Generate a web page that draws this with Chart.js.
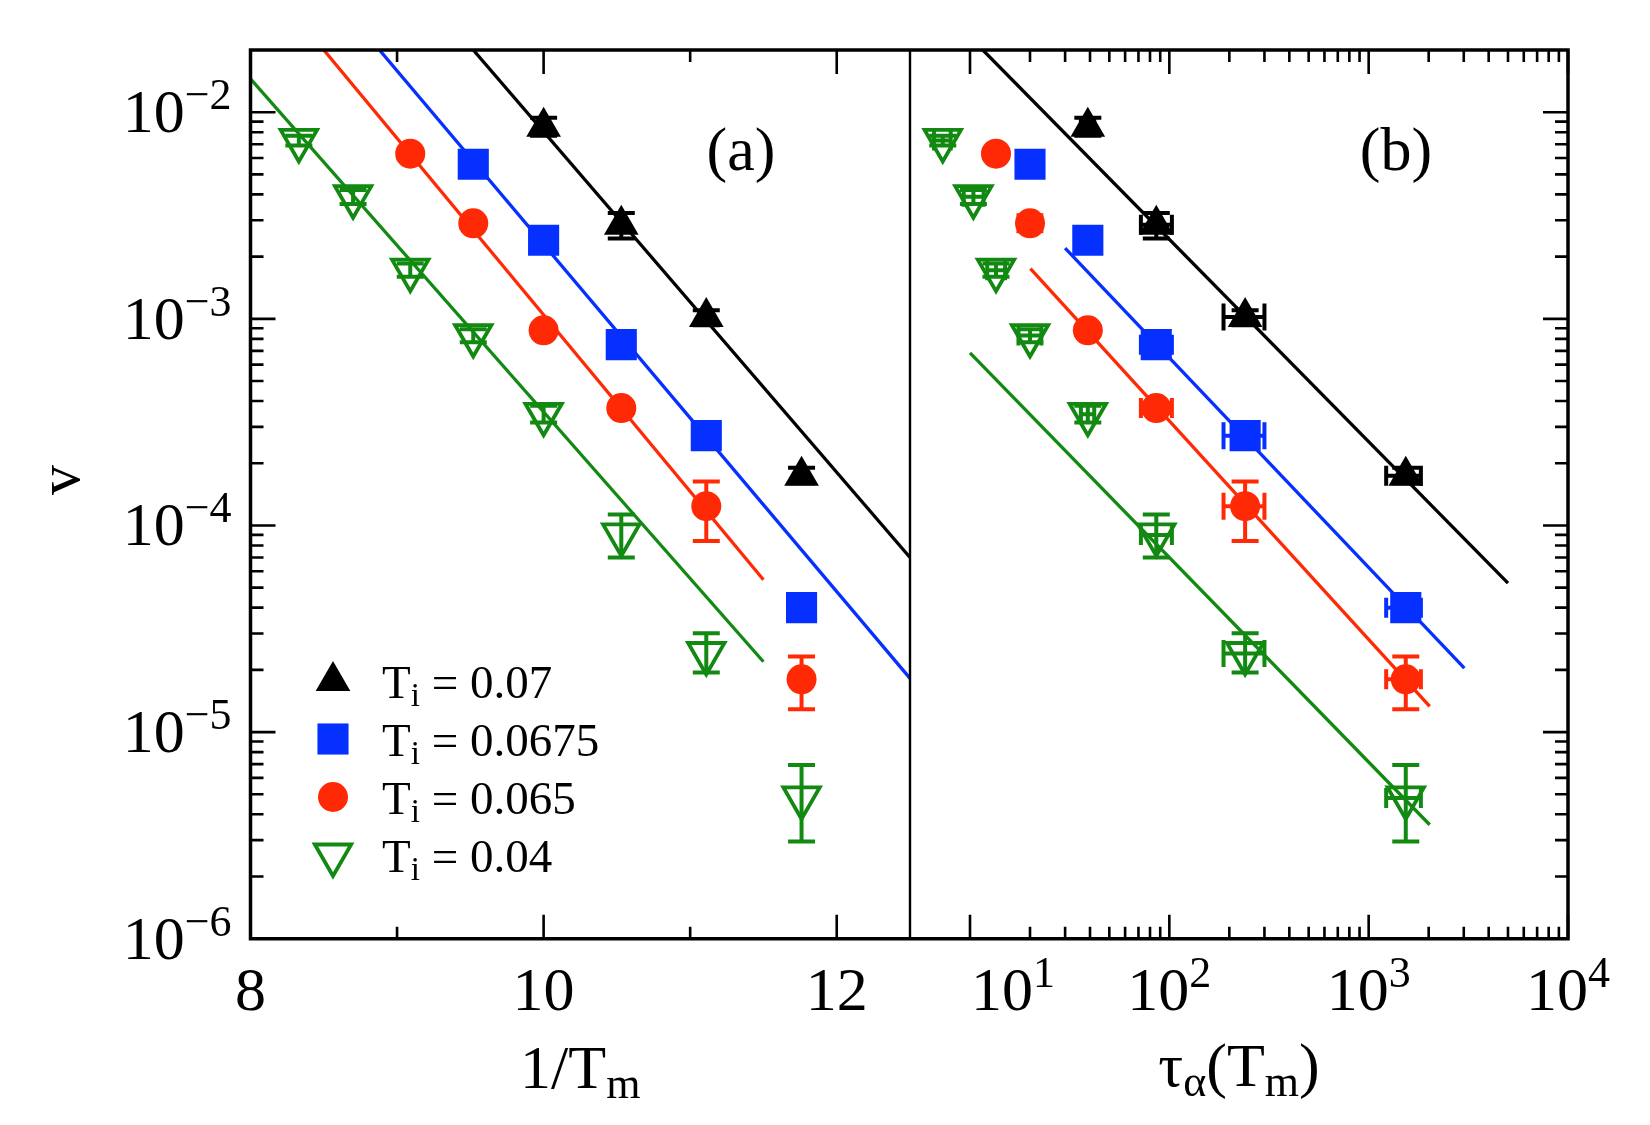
<!DOCTYPE html>
<html>
<head>
<meta charset="utf-8">
<script src="https://cdn.jsdelivr.net/npm/chart.js@4.4.0/dist/chart.umd.min.js"></script>
<style>
    body { margin: 0; background: #fff; }
    #wrap { position: relative; width: 1650px; height: 1125px; }
    #wrap canvas { position: absolute; left: 0; top: 0; }
</style>
</head>
<body>
<div id="wrap">
    <canvas id="chartA" width="1650" height="1125"></canvas>
    <canvas id="chartB" width="1650" height="1125"></canvas>
</div>
<script>
const SERIF = '"Liberation Serif", "Times New Roman", serif';

// 1/T_m and tau_alpha(T_m) for T_m = 0.12, 0.115, ... 0.085
const invTm = [8.33, 8.70, 9.09, 9.52, 10.0, 10.53, 11.11, 11.76];
const tauAlpha = [7.3, 10.4, 13.5, 20.0, 39.0, 86.0, 240, 1535];
const tauLow = [6.6, 9.3, 12.2, 17.5, 36.0, 72.0, 187, 1224];
const tauHigh = [8.0, 11.7, 15.0, 22.8, 42.0, 103, 300, 1828];

const seriesLabels = ['0.07', '0.0675', '0.065', '0.04'];
const seriesColors = ['#000000', '#0530ff', '#ff2a05', '#128a12'];

// v for each T_i, matching the last temperatures of the lists above
const vBlack = [8.5e-3, 2.85e-3, 1.02e-3, 1.74e-4];
const vBlackLow = [7.7e-3, 2.45e-3, 0.93e-3, 1.6e-4];
const vBlackHigh = [9.4e-3, 3.25e-3, 1.1e-3, 1.9e-4];

const vBlue = [5.6e-3, 2.4e-3, 7.5e-4, 2.72e-4, 4.0e-5];
const vBlueLow = [5.3e-3, 2.3e-3, 7.1e-4, 2.55e-4, 3.8e-5];
const vBlueHigh = [5.9e-3, 2.5e-3, 7.9e-4, 2.9e-4, 4.2e-5];

const vRed = [6.3e-3, 2.9e-3, 8.8e-4, 3.7e-4, 1.24e-4, 1.8e-5];
const vRedLow = [6.0e-3, 2.75e-3, 8.4e-4, 3.5e-4, 8.4e-5, 1.29e-5];
const vRedHigh = [6.6e-3, 3.05e-3, 9.2e-4, 3.9e-4, 1.63e-4, 2.32e-5];

const vGreen = [7.3e-3, 3.9e-3, 1.72e-3, 8.3e-4, 3.45e-4, 9.0e-5, 2.4e-5, 4.8e-6];
const vGreenLow = [6.9e-3, 3.6e-3, 1.6e-3, 7.7e-4, 3.15e-4, 7.0e-5, 1.94e-5, 2.95e-6];
const vGreenHigh = [7.7e-3, 4.2e-3, 1.85e-3, 8.9e-4, 3.8e-4, 1.13e-4, 3.01e-5, 6.93e-6];

// fitted lines, end points per series (black, blue, red, green)
const fitAX0 = [9.52, 8.88, 8.50, 8.00];
const fitAX1 = [12.5, 12.5, 11.50, 11.50];
const fitAV0 = [2.0e-2, 2.0e-2, 2.0e-2, 1.45e-2];
const fitAV1 = [7.0e-5, 1.82e-5, 5.46e-5, 2.19e-5];
const fitBX0 = [11.6, 30, 20.1, 10];
const fitBX1 = [5000, 3020, 2024, 2024];
const fitBV0 = [2.0e-2, 2.2e-3, 1.75e-3, 6.84e-4];
const fitBV1 = [5.26e-5, 2.04e-5, 1.33e-5, 3.56e-6];

// tick labels
const xTicksA = [8, 10, 12];
const xMinorA = [9, 11];
const xTicksB = [10, 100, 1000, 10000];
const xExpB = ['1', '2', '3', '4'];
const yTicks = [1e-6, 1e-5, 1e-4, 1e-3, 1e-2];
const yExp = ['\u22126', '\u22125', '\u22124', '\u22123', '\u22122'];

const markerStyles = [
    { pointStyle: 'triangle', radius: 20, rotation: 0, fill: true },
    { pointStyle: 'rect', radius: 22, rotation: 0, fill: true },
    { pointStyle: 'circle', radius: 15, rotation: 0, fill: true },
    { pointStyle: 'triangle', radius: 21, rotation: 180, fill: false },
];

const PLOT = { top: 50, bottom: 938.7, left: 250.5, mid: 910, right: 1568 };

document.addEventListener('DOMContentLoaded', initialize);

function initialize() {
    const chartA = new Chart(document.getElementById('chartA'), {
        type: 'scatter',
        data: { datasets: makeDatasets(invTm, null, null, fitAX0, fitAX1, fitAV0, fitAV1) },
        options: baseOptions(
            { type: 'linear', min: 8, max: 12.5 },
            { left: PLOT.left, right: 1650 - PLOT.mid, top: PLOT.top, bottom: 1125 - PLOT.bottom }
        ),
        plugins: [makeFramePlugin({ side: 'a' })],
    });

    const chartB = new Chart(document.getElementById('chartB'), {
        type: 'scatter',
        data: { datasets: makeDatasets(tauAlpha, tauLow, tauHigh, fitBX0, fitBX1, fitBV0, fitBV1) },
        options: baseOptions(
            { type: 'logarithmic', min: 5, max: 10000 },
            { left: PLOT.mid, right: 1650 - PLOT.right, top: PLOT.top, bottom: 1125 - PLOT.bottom }
        ),
        plugins: [makeFramePlugin({ side: 'b' })],
    });
}

function baseOptions(xScale, padding) {
    return {
        responsive: false,
        animation: false,
        events: [],
        layout: { padding: padding },
        plugins: { legend: { display: false }, tooltip: { enabled: false } },
        scales: {
            x: Object.assign({ display: false }, xScale),
            y: { type: 'logarithmic', min: 1e-6, max: 2e-2, display: false },
        },
    };
}

function makeDatasets(xs, xLow, xHigh, fitX0, fitX1, fitV0, fitV1) {
    const values = [vBlack, vBlue, vRed, vGreen];
    const lows = [vBlackLow, vBlueLow, vRedLow, vGreenLow];
    const highs = [vBlackHigh, vBlueHigh, vRedHigh, vGreenHigh];

    const markers = values.map((v, i) => {
        const off = xs.length - v.length;
        const m = markerStyles[i];
        return {
            label: 'T_i = ' + seriesLabels[i],
            data: v.map((val, k) => ({
                x: xs[off + k],
                y: val,
                yMin: lows[i][k],
                yMax: highs[i][k],
                xMin: xLow ? xLow[off + k] : null,
                xMax: xHigh ? xHigh[off + k] : null,
            })),
            showLine: false,
            pointStyle: m.pointStyle,
            pointRadius: m.radius,
            pointRotation: m.rotation,
            pointBackgroundColor: m.fill ? seriesColors[i] : 'rgba(0,0,0,0)',
            pointBorderColor: seriesColors[i],
            pointBorderWidth: m.fill ? 0 : 3.8,
            borderColor: seriesColors[i],
            errorBars: true,
        };
    });

    const lines = values.map((v, i) => ({
        label: 'fit ' + seriesLabels[i],
        data: [{ x: fitX0[i], y: fitV0[i] }, { x: fitX1[i], y: fitV1[i] }],
        showLine: true,
        pointRadius: 0,
        borderColor: seriesColors[i],
        borderWidth: 3.3,
    }));

    return markers.concat(lines);
}

function drawErrorBars(chart) {
    const ctx = chart.ctx;
    const xs = chart.scales.x;
    const ys = chart.scales.y;
    const cap = 13.5;
    const xCap = 10;
    chart.data.datasets.forEach(ds => {
        if (!ds.errorBars) return;
        ctx.save();
        ctx.strokeStyle = ds.borderColor;
        ctx.lineWidth = 4;
        ctx.beginPath();
        ds.data.forEach(p => {
            const px = xs.getPixelForValue(p.x);
            const py = ys.getPixelForValue(p.y);
            const y0 = ys.getPixelForValue(p.yMin);
            const y1 = ys.getPixelForValue(p.yMax);
            ctx.moveTo(px, y0); ctx.lineTo(px, y1);
            ctx.moveTo(px - cap, y0); ctx.lineTo(px + cap, y0);
            ctx.moveTo(px - cap, y1); ctx.lineTo(px + cap, y1);
            if (p.xMin !== null) {
                const x0 = xs.getPixelForValue(p.xMin);
                const x1 = xs.getPixelForValue(p.xMax);
                const h = (x1 - x0) > 40 ? cap : xCap;
                ctx.moveTo(x0, py); ctx.lineTo(x1, py);
                ctx.moveTo(x0, py - h); ctx.lineTo(x0, py + h);
                ctx.moveTo(x1, py - h); ctx.lineTo(x1, py + h);
            }
        });
        ctx.stroke();
        ctx.restore();
    });
}

// segs: [text, fontSize, dy]
function drawRich(ctx, segs, x, y, align) {
    const widths = segs.map(s => {
        ctx.font = s[1] + 'px ' + SERIF;
        return ctx.measureText(s[0]).width;
    });
    const total = widths.reduce((a, b) => a + b, 0);
    let cx = align === 'right' ? x - total : (align === 'center' ? x - total / 2 : x);
    ctx.textAlign = 'left';
    ctx.textBaseline = 'alphabetic';
    segs.forEach((s, i) => {
        ctx.font = s[1] + 'px ' + SERIF;
        ctx.fillText(s[0], cx, y + s[2]);
        cx += widths[i];
    });
}

function minorLogValues(firstExp, lastExp, max) {
    const out = [];
    for (let e = firstExp; e <= lastExp; e++) {
        for (let k = 2; k <= 9; k++) {
            const v = k * Math.pow(10, e);
            if (v < max * 0.999) out.push(v);
        }
    }
    return out;
}

function makeFramePlugin(cfg) {
    return {
        id: 'frame_' + cfg.side,
        beforeDatasetsDraw(chart) {
            drawErrorBars(chart);
        },
        afterDraw(chart) {
            const ctx = chart.ctx;
            const area = chart.chartArea;
            const xs = chart.scales.x;
            const ys = chart.scales.y;
            const isA = cfg.side === 'a';

            ctx.save();
            ctx.strokeStyle = '#000';
            ctx.fillStyle = '#000';

            // inside ticks
            ctx.lineWidth = 2.6;
            ctx.beginPath();
            const yEdge = isA ? area.left : area.right;
            const dir = isA ? 1 : -1;
            yTicks.forEach(v => {
                const p = ys.getPixelForValue(v);
                ctx.moveTo(yEdge, p); ctx.lineTo(yEdge + dir * 25, p);
            });
            minorLogValues(-6, -2, 2e-2).forEach(v => {
                const p = ys.getPixelForValue(v);
                ctx.moveTo(yEdge, p); ctx.lineTo(yEdge + dir * 13, p);
            });
            const xMajor = isA ? xTicksA : xTicksB;
            const xMinor = isA ? xMinorA : minorLogValues(1, 3, 10000);
            xMajor.forEach(v => {
                const p = xs.getPixelForValue(v);
                ctx.moveTo(p, area.bottom); ctx.lineTo(p, area.bottom - 24);
                ctx.moveTo(p, area.top); ctx.lineTo(p, area.top + 24);
            });
            xMinor.forEach(v => {
                const p = xs.getPixelForValue(v);
                ctx.moveTo(p, area.bottom); ctx.lineTo(p, area.bottom - 12);
                ctx.moveTo(p, area.top); ctx.lineTo(p, area.top + 12);
            });
            ctx.stroke();

            // frame
            ctx.lineWidth = 3.5;
            ctx.beginPath();
            ctx.moveTo(area.left, area.top); ctx.lineTo(area.right, area.top);
            ctx.moveTo(area.left, area.bottom); ctx.lineTo(area.right, area.bottom);
            if (isA) {
                ctx.moveTo(area.left, area.top - 1.75); ctx.lineTo(area.left, area.bottom + 1.75);
            } else {
                ctx.moveTo(area.right, area.top - 1.75); ctx.lineTo(area.right, area.bottom + 1.75);
            }
            ctx.stroke();
            if (isA) {
                ctx.lineWidth = 2.4;
                ctx.beginPath();
                ctx.moveTo(area.right, area.top); ctx.lineTo(area.right, area.bottom);
                ctx.stroke();
            }

            // tick labels and titles
            const midX = (area.left + area.right) / 2;
            if (isA) {
                yTicks.forEach((v, i) => {
                    const p = ys.getPixelForValue(v);
                    drawRich(ctx, [['10', 62, 0], [yExp[i], 44, -23]], area.left - 19, p + 20, 'right');
                });
                xTicksA.forEach(v => {
                    drawRich(ctx, [[String(v), 62, 0]], xs.getPixelForValue(v), 1010, 'center');
                });
                drawRich(ctx, [['1/T', 62, 0], ['m', 44, 10]], midX, 1088, 'center');
                drawRich(ctx, [['(a)', 62, 0]], 741, 170, 'center');

                ctx.save();
                ctx.font = '60px ' + SERIF;
                ctx.translate(79, 480);
                ctx.rotate(-Math.PI / 2);
                ctx.textAlign = 'center';
                ctx.textBaseline = 'alphabetic';
                ctx.fillText('v', 0, 0);
                ctx.restore();

                drawLegend(ctx);
            } else {
                xTicksB.forEach((v, i) => {
                    const shift = i === 0 ? 43 : 0;
                    drawRich(ctx, [['10', 62, 0], [xExpB[i], 44, -23]], xs.getPixelForValue(v) + shift, 1010, 'center');
                });
                drawRich(ctx, [['\u03c4', 62, 0], ['\u03b1', 44, 10], ['(T', 62, 0], ['m', 44, 10], [')', 62, 0]], midX, 1086, 'center');
                drawRich(ctx, [['(b)', 62, 0]], 1396, 170, 'center');
            }
            ctx.restore();
        },
    };
}

function drawLegend(ctx) {
    const baselines = [698, 756, 814, 872];
    seriesLabels.forEach((label, i) => {
        const m = markerStyles[i];
        ctx.save();
        ctx.fillStyle = m.fill ? seriesColors[i] : 'rgba(0,0,0,0)';
        ctx.strokeStyle = seriesColors[i];
        ctx.lineWidth = m.fill ? 0 : 3.8;
        Chart.helpers.drawPoint(ctx, {
            pointStyle: m.pointStyle,
            rotation: m.rotation,
            radius: m.radius,
            borderWidth: m.fill ? 0 : 3.8,
        }, 333, baselines[i] - 17);
        ctx.restore();
        ctx.fillStyle = '#000';
        drawRich(ctx, [['T', 47, 0], ['i', 33, 8], [' = ' + label, 47, 0]], 382, baselines[i], 'left');
    });
}
</script>
</body>
</html>
